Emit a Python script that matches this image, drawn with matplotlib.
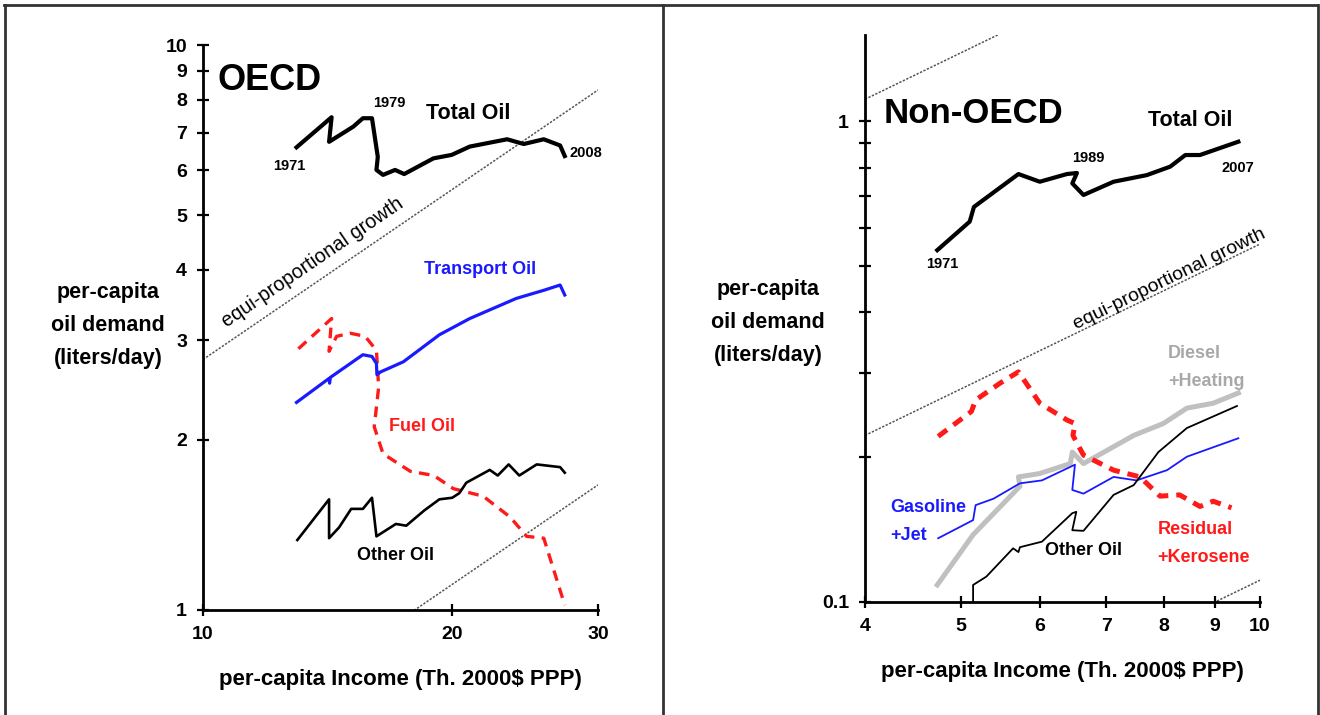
import numpy as np
import matplotlib
matplotlib.use("Agg")
import matplotlib.pyplot as plt
from matplotlib.lines import Line2D
from matplotlib.ticker import NullFormatter, NullLocator, FixedLocator

plt.rcParams['font.family'] = ['Liberation Sans', 'DejaVu Sans']

# ---- OECD (income in th. 2000$ PPP, demand in liters/day per capita) ----
oecd_total_x = [12.97, 14.30, 14.20, 15.19, 15.6, 16.0, 16.26, 16.2, 16.5, 17.06, 17.5,
                18.98, 19.97, 21.0, 23.3, 24.4, 25.8, 27.0, 27.35]
oecd_total_y = [6.59, 7.45, 6.74, 7.17, 7.42, 7.42, 6.34, 6.01, 5.89, 6.01, 5.91,
                6.30, 6.39, 6.61, 6.81, 6.68, 6.81, 6.64, 6.36]

oecd_transport_x = [12.97, 14.2, 14.22, 14.25, 15.6, 16.0, 16.2, 16.22, 16.4, 17.46,
                    19.3, 21.0, 23.9, 25.8, 27.0, 27.35]
oecd_transport_y = [2.33, 2.57, 2.52, 2.58, 2.83, 2.81, 2.73, 2.61, 2.64, 2.75,
                    3.07, 3.28, 3.56, 3.68, 3.76, 3.61]

oecd_fuel_x = [13.04, 14.3, 14.2, 14.5, 15.05, 15.7, 16.2, 16.3, 16.1, 16.5, 17.8,
               19.0, 20.06, 21.8, 23.5, 24.6, 25.8, 27.35]
oecd_fuel_y = [2.90, 3.28, 2.87, 3.05, 3.09, 3.05, 2.88, 2.48, 2.11, 1.89, 1.76,
               1.73, 1.64, 1.59, 1.46, 1.35, 1.34, 1.02]

oecd_other_x = [13.0, 14.2, 14.2, 14.6, 15.1, 15.6, 16.0, 16.2, 17.1, 17.6, 18.5,
                19.3, 20.0, 20.4, 20.8, 22.2, 22.7, 23.4, 24.1, 25.3, 27.0, 27.35]
oecd_other_y = [1.33, 1.57, 1.34, 1.40, 1.51, 1.51, 1.58, 1.35, 1.42, 1.41, 1.50,
                1.57, 1.58, 1.61, 1.68, 1.77, 1.73, 1.81, 1.73, 1.81, 1.79, 1.75]

# ---- Non-OECD ----
non_total_x = [4.73, 5.10, 5.15, 5.71, 6.0, 6.39, 6.54, 6.47, 6.64, 7.12, 7.69,
               8.12, 8.41, 8.70, 9.51]
non_total_y = [0.539, 0.618, 0.663, 0.776, 0.748, 0.776, 0.780, 0.742, 0.702, 0.748,
               0.772, 0.804, 0.850, 0.850, 0.906]

non_residual_x = [4.74, 5.12, 5.17, 5.47, 5.71, 6.0, 6.39, 6.51, 6.48, 6.64, 7.12,
                  7.57, 7.93, 8.30, 8.70, 8.97, 9.36]
non_residual_y = [0.221, 0.249, 0.263, 0.285, 0.301, 0.259, 0.239, 0.235, 0.222, 0.202,
                  0.188, 0.182, 0.166, 0.167, 0.158, 0.162, 0.157]

non_diesel_x = [4.73, 5.14, 5.73, 5.71, 6.0, 6.44, 6.47, 6.64, 7.46, 7.99, 8.44,
                8.97, 9.51]
non_diesel_y = [0.1085, 0.138, 0.174, 0.182, 0.185, 0.194, 0.205, 0.194, 0.222, 0.235,
                0.253, 0.259, 0.272]

non_gasoline_x = [4.74, 5.14, 5.17, 5.39, 5.73, 6.03, 6.51, 6.47, 6.64, 7.12, 7.51,
                  8.06, 8.44, 9.51]
non_gasoline_y = [0.1357, 0.148, 0.159, 0.164, 0.1765, 0.179, 0.193, 0.171, 0.168, 0.182,
                  0.179, 0.188, 0.2005, 0.219]

non_other_x = [5.14, 5.14, 5.30, 5.64, 5.71, 5.73, 6.03, 6.47, 6.53, 6.47, 6.64,
               7.12, 7.46, 7.90, 8.44, 9.48]
non_other_y = [0.1, 0.1085, 0.1129, 0.1293, 0.127, 0.130, 0.1335, 0.153, 0.154, 0.141,
               0.1406, 0.167, 0.175, 0.205, 0.230, 0.2556]

# equi-proportional growth: demand = c * income
equi_coef_oecd = [0.2775, 0.0555]
equi_coef_non = [0.2775, 0.0555, 0.0111]

oecd_yticks = [1, 2, 3, 4, 5, 6, 7, 8, 9, 10]
oecd_xticks = [10, 20, 30]
non_xticks = [4, 5, 6, 7, 8, 9, 10]
non_yminor = [0.2, 0.3, 0.4, 0.5, 0.6, 0.7, 0.8, 0.9]

W, H = 1320, 715
fig = plt.figure(figsize=(W / 100, H / 100), dpi=100)
ax1 = fig.add_axes([203 / W, 1 - 610 / H, 395 / W, 565 / H])
ax2 = fig.add_axes([865 / W, 1 - 602 / H, 395 / W, 567 / H])

BLUE = '#1a1aff'
RED = '#ff1a1a'
GREY = '#c0c0c0'
LBL = dict(fontsize=13, fontweight='bold')
YEAR = dict(fontsize=10.5, fontweight='bold', ha='center', va='center')


def style_axes(ax):
    ax.set_xscale('log')
    ax.set_yscale('log')
    for s in ('top', 'right'):
        ax.spines[s].set_visible(False)
    for s in ('left', 'bottom'):
        ax.spines[s].set_linewidth(2.0)
    ax.tick_params(which='both', direction='inout', length=9, width=1.6,
                   labelsize=14, pad=7)
    ax.set_xlabel('per-capita Income (Th. 2000$ PPP)', fontsize=16,
                  fontweight='bold', labelpad=19)


def equi_lines(ax, coefs, xlo, xhi):
    xs = np.geomspace(xlo, xhi, 50)
    for c in coefs:
        ax.plot(xs, c * xs, color='#555555', lw=1.1, ls=(0, (1.5, 1.0)), zorder=1)


def line_angle(ax, x0, x1, c):
    p0 = ax.transData.transform((x0, c * x0))
    p1 = ax.transData.transform((x1, c * x1))
    return np.degrees(np.arctan2(p1[1] - p0[1], p1[0] - p0[0]))


# ---------------- OECD panel ----------------
ax1.set_xlim(10, 30)
ax1.set_ylim(1, 10)
style_axes(ax1)
ax1.xaxis.set_major_locator(FixedLocator(oecd_xticks))
ax1.xaxis.set_minor_locator(NullLocator())
ax1.set_xticklabels([str(v) for v in oecd_xticks], fontweight='bold')
ax1.yaxis.set_major_locator(FixedLocator(oecd_yticks))
ax1.yaxis.set_minor_locator(NullLocator())
ax1.set_yticklabels([str(v) for v in oecd_yticks], fontweight='bold')

equi_lines(ax1, equi_coef_oecd, 10, 30)
ax1.plot(oecd_total_x, oecd_total_y, color='black', lw=3.0, zorder=5)
ax1.plot(oecd_transport_x, oecd_transport_y, color=BLUE, lw=2.3, zorder=4)
ax1.plot(oecd_fuel_x, oecd_fuel_y, color=RED, lw=2.4, ls=(0, (3.2, 2.2)), zorder=3)
ax1.plot(oecd_other_x, oecd_other_y, color='black', lw=1.9, zorder=4)

ax1.text(10.42, 8.67, 'OECD', fontsize=26, fontweight='bold', ha='left', va='center')
ax1.text(20.9, 7.55, 'Total Oil', fontsize=15.5, fontweight='bold', ha='center', va='center')
ax1.text(12.7, 6.1, '1971', **YEAR)
ax1.text(16.77, 7.89, '1979', **YEAR)
ax1.text(29.0, 6.45, '2008', **YEAR)
ax1.text(21.6, 4.0, 'Transport Oil', color=BLUE, ha='center', va='center', **LBL)
ax1.text(18.4, 2.11, 'Fuel Oil', color=RED, ha='center', va='center', **LBL)
ax1.text(17.06, 1.25, 'Other Oil', ha='center', va='center', **LBL)
ax1.text(13.58, 4.13, 'equi-proportional growth', fontsize=14.3, ha='center', va='center',
         rotation=line_angle(ax1, 10, 30, equi_coef_oecd[0]), rotation_mode='anchor')

# ---------------- Non-OECD panel ----------------
ax2.set_xlim(4, 10)
ax2.set_ylim(0.1, 1.51)
style_axes(ax2)
ax2.xaxis.set_major_locator(FixedLocator(non_xticks))
ax2.xaxis.set_minor_locator(NullLocator())
ax2.set_xticklabels([str(v) for v in non_xticks], fontweight='bold')
ax2.yaxis.set_major_locator(FixedLocator([0.1, 1]))
ax2.yaxis.set_minor_locator(FixedLocator(non_yminor))
ax2.yaxis.set_minor_formatter(NullFormatter())
ax2.set_yticklabels(['0.1', '1'], fontweight='bold')

equi_lines(ax2, equi_coef_non, 4, 10)
ax2.plot(non_diesel_x, non_diesel_y, color=GREY, lw=3.6, zorder=2)
ax2.plot(non_residual_x, non_residual_y, color=RED, lw=3.6, ls=(0, (2.2, 1.6)), zorder=3)
ax2.plot(non_gasoline_x, non_gasoline_y, color=BLUE, lw=1.3, zorder=4)
ax2.plot(non_other_x, non_other_y, color='black', lw=1.3, zorder=4)
ax2.plot(non_total_x, non_total_y, color='black', lw=3.0, zorder=5)

ax2.text(4.18, 1.039, 'Non-OECD', fontsize=25, fontweight='bold', ha='left', va='center')
ax2.text(8.50, 1.005, 'Total Oil', fontsize=15.5, fontweight='bold', ha='center', va='center')
ax2.text(4.78, 0.505, '1971', **YEAR)
ax2.text(6.71, 0.838, '1989', **YEAR)
ax2.text(9.5, 0.80, '2007', **YEAR)
ax2.text(8.1, 0.47, 'equi-proportional growth', fontsize=14, ha='center', va='center',
         rotation=line_angle(ax2, 4, 10, equi_coef_non[1]), rotation_mode='anchor')
ax2.text(8.08, 0.308, 'Diesel\n+Heating', color='#a8a8a8', ha='left', va='center',
         linespacing=1.85, **LBL)
ax2.text(4.24, 0.147, 'Gasoline\n+Jet', color=BLUE, ha='left', va='center',
         linespacing=1.85, **LBL)
ax2.text(6.64, 0.1277, 'Other Oil', ha='center', va='center', **LBL)
ax2.text(7.88, 0.1323, 'Residual\n+Kerosene', color=RED, ha='left', va='center',
         linespacing=1.85, **LBL)

# y labels sitting left of each axis
ylab = 'per-capita\noil demand\n(liters/day)'
fig.text(108 / W, 1 - 325 / H, ylab, fontsize=15.5, fontweight='bold', ha='center',
         va='center', linespacing=1.75)
fig.text(768 / W, 1 - 322 / H, ylab, fontsize=15.5, fontweight='bold', ha='center',
         va='center', linespacing=1.75)

# page frame and panel divider
frame = dict(color='#333333', lw=2.0, transform=fig.transFigure)
fig.add_artist(Line2D([4 / W, 1317 / W], [1 - 5 / H, 1 - 5 / H], **frame))
fig.add_artist(Line2D([5 / W, 5 / W], [0, 1 - 5 / H], **frame))
fig.add_artist(Line2D([1318 / W, 1318 / W], [0, 1 - 5 / H], **frame))
fig.add_artist(Line2D([663 / W, 663 / W], [0, 1 - 5 / H], **frame))

fig.savefig('out.png', dpi=100)
